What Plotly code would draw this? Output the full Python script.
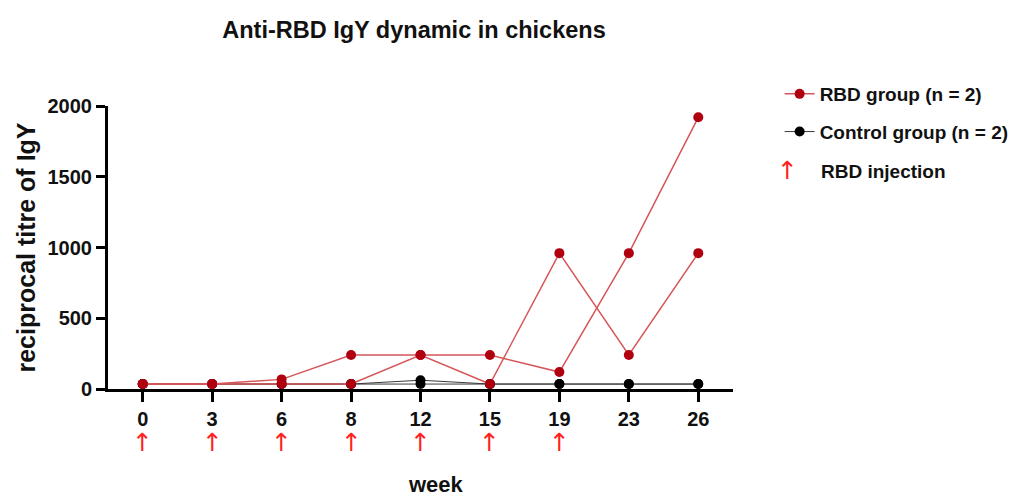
import plotly.graph_objects as go

weeks = ["0", "3", "6", "8", "12", "15", "19", "23", "26"]
rbd_a = [35, 35, 68, 240, 240, 240, 120, 960, 1920]
rbd_b = [35, 35, 35, 35, 240, 35, 960, 240, 960]
ctrl_a = [35, 35, 35, 35, 62, 35, 35, 35, 35]
ctrl_b = [35, 35, 35, 35, 35, 35, 35, 35, 35]
injection_weeks = ["0", "3", "6", "8", "12", "15", "19"]
y_ticks = [0, 500, 1000, 1500, 2000]

FONT = "Liberation Sans, Arial, sans-serif"
RED_LINE = "#d65558"
RED_MARK = "#b0000f"
ARROW_RED = "#ff1f1f"

# plot area in pixels (for converting text placements to paper coords)
L, R, T, B, W, H = 108, 288, 106, 108, 1026, 497
PW, PH = W - L - R, H - T - B


def px(xp):
    return (xp - L) / PW


def py(yp):
    return (H - B - yp) / PH


fig = go.Figure()

for ys in [ctrl_a, ctrl_b]:
    fig.add_trace(go.Scatter(
        x=weeks, y=ys, mode="lines+markers",
        line=dict(color="#3a3a3a", width=1),
        marker=dict(color="black", size=10),
        name="Control group (n = 2)", legendgroup="ctrl",
        showlegend=False, cliponaxis=False,
    ))

for i, ys in enumerate([rbd_a, rbd_b]):
    fig.add_trace(go.Scatter(
        x=weeks, y=ys, mode="lines+markers",
        line=dict(color=RED_LINE, width=1.5),
        marker=dict(color=RED_MARK, size=10),
        name="RBD group (n = 2)", legendgroup="rbd",
        showlegend=(i == 0), cliponaxis=False, legendrank=1,
    ))

fig.add_trace(go.Scatter(
    x=[None], y=[None], mode="lines+markers",
    line=dict(color="#3a3a3a", width=1),
    marker=dict(color="black", size=10),
    name="Control group (n = 2)", legendgroup="ctrl", legendrank=2,
))

for wk in injection_weeks:
    fig.add_annotation(
        xref="x", yref="paper", x=weeks.index(wk), y=py(442), text="↑",
        showarrow=False, font=dict(color=ARROW_RED, size=25, family="DejaVu Sans"),
        xanchor="center", yanchor="middle",
    )

fig.add_annotation(
    xref="paper", yref="paper", x=px(793), y=py(170), text="↑",
    showarrow=False, font=dict(color=ARROW_RED, size=25, family="DejaVu Sans"),
    xanchor="center", yanchor="middle",
)
fig.add_annotation(
    xref="paper", yref="paper", x=px(825), y=py(171), text="RBD injection",
    showarrow=False, font=dict(color="#111111", size=19, family=FONT, weight="bold"),
    xanchor="left", yanchor="middle",
)
fig.add_annotation(
    xref="paper", yref="paper", x=px(439), y=py(484), text="week",
    showarrow=False, font=dict(color="#111111", size=22, family=FONT, weight="bold"),
    xanchor="center", yanchor="middle",
)

fig.update_layout(
    width=W, height=H,
    paper_bgcolor="white", plot_bgcolor="white",
    margin=dict(l=L, r=R, t=T, b=B),
    font=dict(family=FONT, color="#111111"),
    title=dict(text="Anti-RBD IgY dynamic in chickens", x=414 / W, xanchor="center",
               y=1 - 30 / H, yanchor="middle",
               font=dict(size=23.5, family=FONT, weight="bold", color="#111111")),
    legend=dict(x=px(785), y=py(75), xanchor="left", yanchor="top",
                font=dict(size=19, family=FONT, weight="bold", color="#111111"),
                itemwidth=30, tracegroupgap=10, bgcolor="rgba(0,0,0,0)",
                traceorder="grouped"),
    showlegend=True,
)

fig.update_xaxes(
    type="category", categoryorder="array", categoryarray=weeks,
    range=[-0.5, 8.5], showline=True, linecolor="black", linewidth=3,
    ticks="outside", ticklen=10, tickwidth=3, tickcolor="black",
    showgrid=False, zeroline=False, automargin=False,
    tickfont=dict(size=20, family=FONT, weight="bold", color="#111111"),
)
fig.update_yaxes(
    range=[0, 2000], showline=True, linecolor="black", linewidth=3,
    ticks="outside", ticklen=9, tickwidth=3, tickcolor="black",
    tickvals=y_ticks, automargin=False,
    showgrid=False, zeroline=False,
    tickfont=dict(size=20, family=FONT, weight="bold", color="#111111"),
    title=dict(text="reciprocal titre of IgY",
               font=dict(size=25, family=FONT, weight="bold", color="#111111"), standoff=5),
)

fig.write_html("out.html", config={"displayModeBar": False},
               post_script="document.body.style.margin='0';")
